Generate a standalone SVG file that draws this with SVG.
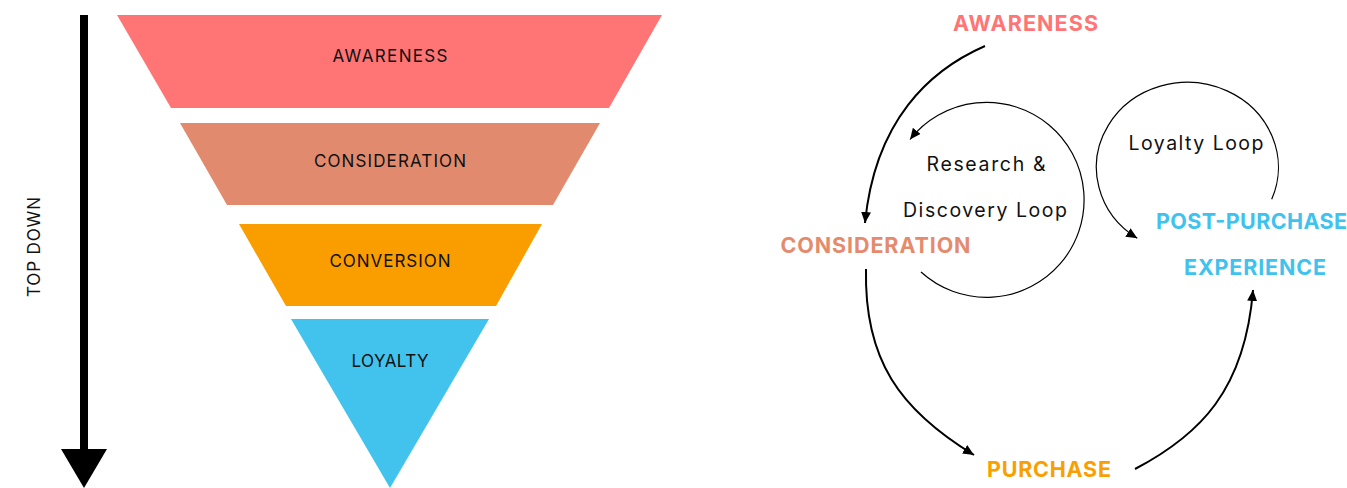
<svg xmlns="http://www.w3.org/2000/svg" width="1347" height="488" viewBox="0 0 1347 488">
<style>
.fl{font-family:Inter,"Noto Sans","Liberation Sans",sans-serif;font-size:17px;fill:#111;text-anchor:middle}
.st{font-family:Inter,"Noto Sans","Liberation Sans",sans-serif;font-size:21.5px;font-weight:bold;text-anchor:middle}
.lp{font-family:Inter,"Noto Sans","Liberation Sans",sans-serif;font-size:19.5px;fill:#111;text-anchor:middle}
.main{fill:none;stroke:#000;stroke-width:2}
.loop{fill:none;stroke:#000;stroke-width:1.2}
</style>
<defs>
<marker id="ah" markerUnits="userSpaceOnUse" markerWidth="11" markerHeight="10" refX="11" refY="5" orient="auto">
<path d="M0,0 L11,5 L0,10 z" fill="#000"/>
</marker>
</defs>
<rect width="1347" height="488" fill="#fff"/>
<g id="topdown">
<rect x="80" y="15" width="8" height="436" fill="#000"/>
<polygon points="61,449 107,449 84,488" fill="#000"/>
<text class="fl" font-size="16" transform="translate(40,247) rotate(-90)" textLength="100">TOP DOWN</text>
</g>
<g id="funnel-awareness">
<polygon points="117,15 662,15 609,108 171,108" fill="#FF7575"/>
<text class="fl" x="390" y="62" textLength="115">AWARENESS</text>
</g>
<g id="funnel-consideration">
<polygon points="180,123 600,123 553,205 227,205" fill="#E18A6D"/>
<text class="fl" x="390" y="167" textLength="152">CONSIDERATION</text>
</g>
<g id="funnel-conversion">
<polygon points="239,224 542,224 496,306 286,306" fill="#FA9E00"/>
<text class="fl" x="390" y="267" textLength="121">CONVERSION</text>
</g>
<g id="funnel-loyalty">
<polygon points="291,319 489,319 390,488" fill="#41C3EE"/>
<text class="fl" x="390" y="367" textLength="77">LOYALTY</text>
</g>
<g id="connectors">
<path class="main" d="M985,46 C930,70 875,120 865,223" marker-end="url(#ah)"/>
<path class="main" d="M866,269 C864,360 900,410 974,455" marker-end="url(#ah)"/>
<path class="main" d="M1135,469 C1200,435 1245,390 1253,290" marker-end="url(#ah)"/>
<path class="loop" d="M921,272 A97.5,97.5 0 1 0 910,139.5" marker-end="url(#ah)"/>
<path class="loop" d="M1271.7,199.3 A91,85 0 1 0 1137.3,238.3" marker-end="url(#ah)"/>
</g>
<g id="awareness">
<text class="st" x="1025.5" y="31" fill="#FF7474" textLength="145">AWARENESS</text>
</g>
<g id="consideration">
<text class="st" x="875.5" y="253" fill="#E58B6D" textLength="190">CONSIDERATION</text>
</g>
<g id="purchase">
<text class="st" x="1049" y="477" fill="#F9A000" textLength="124">PURCHASE</text>
</g>
<g id="post-purchase">
<text class="st" x="1251.5" y="228.5" fill="#3FC3EE" textLength="191">POST-PURCHASE</text>
<text class="st" x="1255" y="275" fill="#3FC3EE" textLength="142">EXPERIENCE</text>
</g>
<g id="research-loop">
<text class="lp" x="986" y="171" textLength="119">Research &amp;</text>
<text class="lp" x="985" y="216.5" textLength="164">Discovery Loop</text>
</g>
<g id="loyalty-loop">
<text class="lp" x="1196" y="150" textLength="135">Loyalty Loop</text>
</g>
</svg>
